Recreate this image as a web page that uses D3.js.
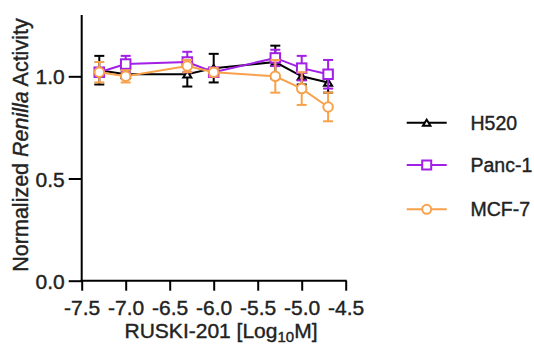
<!DOCTYPE html>
<html>
<head>
<meta charset="utf-8">
<script src="https://cdn.jsdelivr.net/npm/d3@7"></script>
<style>
  body { margin: 0; background: #fff; }
  svg text { font-family: "Liberation Sans", Arial, sans-serif; fill: #222; stroke: #222; stroke-width: 0.4px; }
</style>
</head>
<body>
<svg id="chart" width="534" height="347"></svg>
<script>
// log10 concentration
const doses = [-7.3, -7.0, -6.3, -6.0, -5.3, -5.0, -4.7];
const seriesNames = ["H520", "Panc-1", "MCF-7"];
const h520Mean = [1.03, 1.01, 1.01, 1.04, 1.07, 1.00, 0.97];
const h520Err  = [0.07, 0.02, 0.06, 0.07, 0.08, 0.04, 0.05];
const panc1Mean = [1.02, 1.06, 1.07, 1.02, 1.09, 1.04, 1.01];
const panc1Err  = [0.02, 0.04, 0.05, 0.02, 0.04, 0.06, 0.07];
const mcf7Mean = [1.02, 1.00, 1.05, 1.02, 1.00, 0.94, 0.85];
const mcf7Err  = [0.05, 0.03, 0.03, 0.02, 0.08, 0.08, 0.07];
const xTicks = [-7.5, -7.0, -6.5, -6.0, -5.5, -5.0, -4.5];
const yTicks = [0.0, 0.5, 1.0];

const colors = {"H520": "#000000", "Panc-1": "#a21fe6", "MCF-7": "#f8a14b"};
const shapes = {"H520": "triangle", "Panc-1": "square", "MCF-7": "circle"};

const series = [
  {name: "H520", mean: h520Mean, err: h520Err},
  {name: "Panc-1", mean: panc1Mean, err: panc1Err},
  {name: "MCF-7", mean: mcf7Mean, err: mcf7Err}
];

let svg = d3.select("#chart");

let x = d3.scaleLinear().domain([-7.5, -4.5]).range([81.7, 345.7]);
let y = d3.scaleLinear().domain([0, 1.3]).range([280.7, 15]);

// axes
let fmt = d => d.toFixed(1);  // hyphen minus like the original
let xAxis = svg.append("g")
  .attr("transform", "translate(0,280.7)")
  .call(d3.axisBottom(x).tickValues(xTicks).tickFormat(fmt).tickSize(10).tickPadding(9).tickSizeOuter(0));
let yAxis = svg.append("g")
  .attr("transform", "translate(81.7,0)")
  .call(d3.axisLeft(y).tickValues(yTicks).tickFormat(fmt).tickSize(13).tickPadding(4).tickSizeOuter(0));

[xAxis, yAxis].forEach(a => {
  a.select(".domain").attr("stroke", "#000").attr("stroke-width", 2);
  a.selectAll(".tick line").attr("stroke", "#000").attr("stroke-width", 2);
  a.selectAll(".tick text")
    .attr("fill", "#222")
    .style("font-size", "21px")
    .style("font-family", "'Liberation Sans', Arial, sans-serif");
});
// x axis domain should span from y-axis to end
xAxis.select(".domain").attr("d", `M${x.range()[0] - 1},0H${x.range()[1] + 1}`);
yAxis.select(".domain").attr("d", `M0,${y.range()[0] + 1}V${y.range()[1]}`);
yAxis.selectAll(".tick text").attr("dy", "0.36em");

// marker drawing
function drawMarker(g, shape, color, cx, cy, s) {
  if (shape === "circle") {
    g.append("circle").attr("cx", cx).attr("cy", cy).attr("r", s * 0.5)
      .attr("fill", "#fff").attr("stroke", color).attr("stroke-width", 2);
  } else if (shape === "square") {
    g.append("rect").attr("x", cx - s / 2).attr("y", cy - s / 2).attr("width", s).attr("height", s)
      .attr("fill", "#fff").attr("stroke", color).attr("stroke-width", 2);
  } else {
    let h = s * 0.8;
    g.append("path")
      .attr("d", `M${cx},${cy - h / 2}L${cx + s / 2},${cy + h / 2}L${cx - s / 2},${cy + h / 2}Z`)
      .attr("fill", "#fff").attr("stroke", color).attr("stroke-width", 2);
  }
}

let line = d3.line().x(d => x(d[0])).y(d => y(d[1]));

series.forEach(s => {
  let c = colors[s.name];
  let g = svg.append("g");
  let pts = doses.map((d, i) => [d, s.mean[i], s.err[i]]);
  // error bars
  pts.forEach(p => {
    let xx = x(p[0]);
    g.append("line").attr("x1", xx).attr("x2", xx)
      .attr("y1", y(p[1] - p[2])).attr("y2", y(p[1] + p[2]))
      .attr("stroke", c).attr("stroke-width", 2);
    [p[1] - p[2], p[1] + p[2]].forEach(v => {
      g.append("line").attr("x1", xx - 5).attr("x2", xx + 5)
        .attr("y1", y(v)).attr("y2", y(v))
        .attr("stroke", c).attr("stroke-width", 2);
    });
  });
  g.append("path").datum(pts).attr("d", line)
    .attr("fill", "none").attr("stroke", c).attr("stroke-width", 2);
  pts.forEach(p => drawMarker(g, shapes[s.name], c, x(p[0]), y(p[1]), s.name === "H520" ? 8 : 9.5));
});

// legend
let legendY = [122.7, 165, 209.3];
series.forEach((s, i) => {
  let c = colors[s.name];
  let g = svg.append("g");
  g.append("line").attr("x1", 406.7).attr("x2", 446.7).attr("y1", legendY[i]).attr("y2", legendY[i])
    .attr("stroke", c).attr("stroke-width", 2);
  drawMarker(g, shapes[s.name], c, 426.7, legendY[i], s.name === "H520" ? 7.5 : 9);
  g.append("text").attr("x", 470.5).attr("y", legendY[i]).attr("dy", "0.36em")
    .style("font-size", "19.5px").text(s.name);
});

// axis titles
let xt = svg.append("text").attr("x", 221).attr("y", 338)
  .attr("text-anchor", "middle").style("font-size", "21px");
xt.append("tspan").text("RUSKI-201 [Log");
xt.append("tspan").attr("dy", 3.5).style("font-size", "15px").text("10");
xt.append("tspan").attr("dy", -3.5).text("M]");

let yt = svg.append("text").attr("transform", "translate(28,145) rotate(-90)")
  .attr("text-anchor", "middle").style("font-size", "21.5px");
yt.append("tspan").text("Normalized ");
yt.append("tspan").style("font-style", "italic").text("Renilla");
yt.append("tspan").text(" Activity");
</script>
</body>
</html>
